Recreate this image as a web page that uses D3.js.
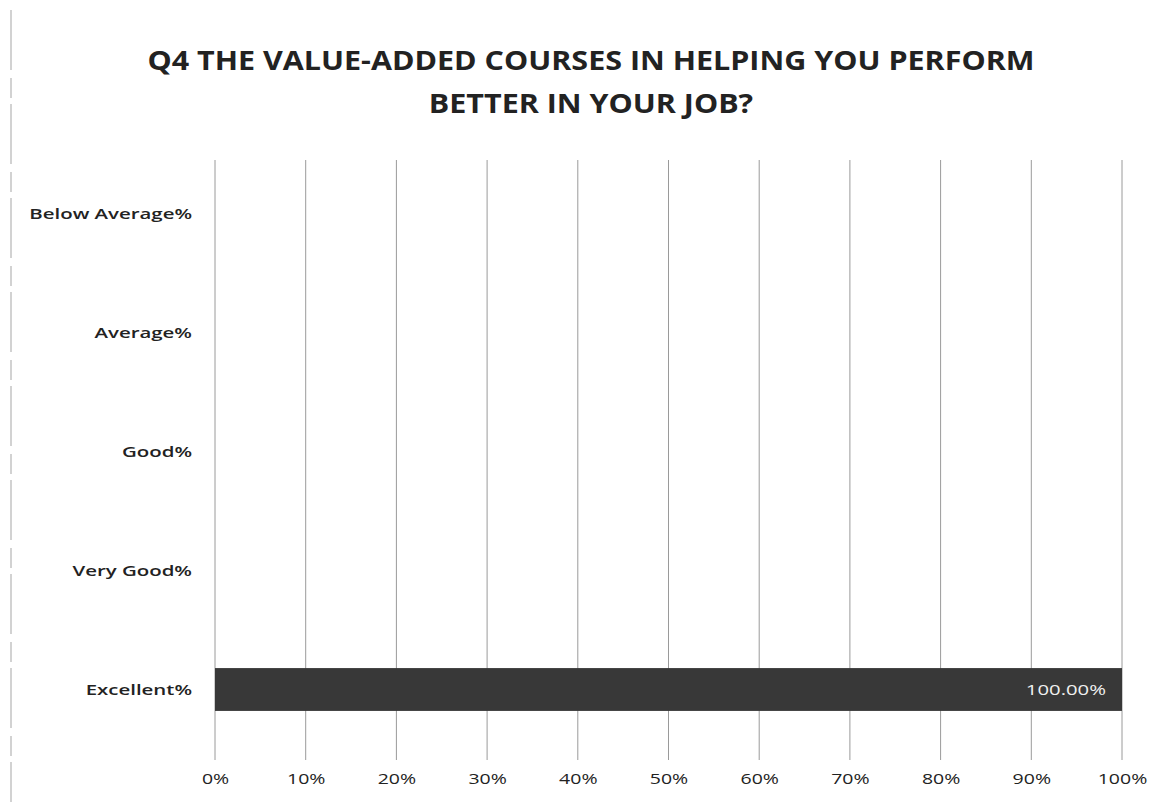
<!DOCTYPE html>
<html>
<head>
<meta charset="utf-8">
<script src="https://cdn.jsdelivr.net/npm/d3@7"></script>
<style>
  html, body { margin: 0; padding: 0; background: #fff; }
  svg { display: block; }
</style>
</head>
<body>
<svg id="chart" width="1166" height="802"></svg>
<script>
// Survey responses, question 4
const titleLines = ["Q4 THE VALUE-ADDED COURSES IN HELPING YOU PERFORM", "BETTER IN YOUR JOB?"];
const categories = ["Below Average%", "Average%", "Good%", "Very Good%", "Excellent%"];
const values = [0, 0, 0, 0, 1.0];
const tickValues = [0, 0.1, 0.2, 0.3, 0.4, 0.5, 0.6, 0.7, 0.8, 0.9, 1.0];

const svg = d3.select("#chart");
const font = "'Open Sans', 'DejaVu Sans', sans-serif";

const margin = { left: 215, right: 44, top: 154, bottom: 53 };
const W = 1166, H = 802;

const x = d3.scaleLinear().domain([0, 1]).range([margin.left, W - margin.right]);
const y = d3.scaleBand().domain(categories).range([margin.top, H - margin.bottom]).paddingInner(0.64).paddingOuter(0.32);

// stretch text horizontally by factor k (wide, condensed-looking lettering)
function widen(sel, k) {
  sel.each(function () {
    const w = this.getComputedTextLength();
    d3.select(this).attr("textLength", w * k).attr("lengthAdjust", "spacingAndGlyphs");
  });
}

// page edge of the sheet
svg.append("line").attr("x1", 11).attr("x2", 11).attr("y1", 10).attr("y2", 802)
  .attr("stroke", "#b5b5b5").attr("stroke-width", 1.2).attr("stroke-dasharray", "60 8 20 6");

// title
const title = svg.append("g").selectAll("text").data(titleLines).join("text")
  .attr("x", 591).attr("y", (d, i) => 70 + i * 43)
  .attr("text-anchor", "middle")
  .attr("font-family", font).attr("font-weight", "bold").attr("font-size", 27)
  .attr("fill", "#222")
  .text(d => d);
const titleK = 887 / title.node().getComputedTextLength();
widen(title, titleK);

// vertical gridlines
svg.append("g").selectAll("line").data(tickValues).join("line")
  .attr("x1", d => x(d)).attr("x2", d => x(d))
  .attr("y1", margin.top + 6).attr("y2", H - 42)
  .attr("stroke", "#9a9a9a").attr("stroke-width", 1);

const rows = categories.map((c, i) => ({ c, v: values[i] }));

// bars
svg.append("g").selectAll("rect").data(rows).join("rect")
  .attr("x", x(0)).attr("y", d => y(d.c))
  .attr("width", d => x(d.v) - x(0)).attr("height", y.bandwidth())
  .attr("fill", "#383838");

// value label inside the bar
const valLabels = svg.append("g").selectAll("text").data(rows.filter(d => d.v > 0)).join("text")
  .attr("x", d => x(d.v) - 16).attr("y", d => y(d.c) + y.bandwidth() / 2 + 5)
  .attr("text-anchor", "end")
  .attr("font-family", font).attr("font-size", 14)
  .attr("fill", "#f0f0f0")
  .text(d => d3.format(".2%")(d.v));
widen(valLabels, 1.45);

// category axis
const yAxis = d3.axisLeft(y).tickSize(0).tickPadding(23);
const gy = svg.append("g").attr("transform", `translate(${margin.left},0)`).call(yAxis);
gy.select(".domain").remove();
gy.selectAll("text").attr("font-family", font).attr("font-size", 15).attr("font-weight", 600)
  .attr("fill", "#222").attr("dy", "0.36em");
widen(gy.selectAll("text"), 1.36);

// value axis
const xAxis = d3.axisBottom(x).tickValues(tickValues).tickFormat(d3.format(".0%")).tickSize(0).tickPadding(8);
const gx = svg.append("g").attr("transform", `translate(0,${H - 37})`).call(xAxis);
gx.select(".domain").remove();
gx.selectAll("text").attr("font-family", font).attr("font-size", 15).attr("fill", "#222");
widen(gx.selectAll("text"), 1.3);
</script>
</body>
</html>
